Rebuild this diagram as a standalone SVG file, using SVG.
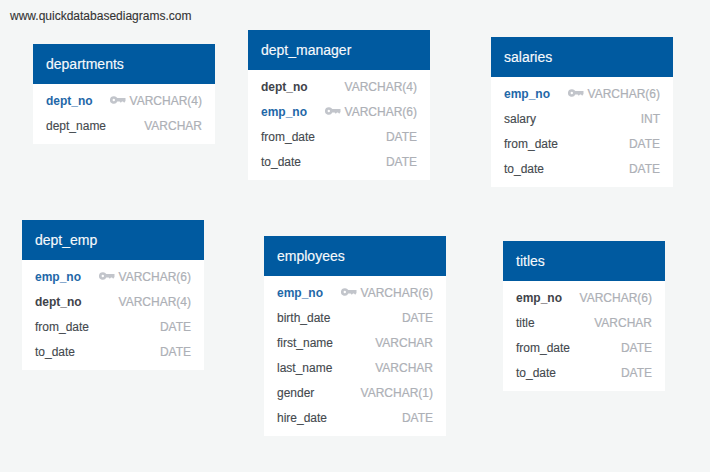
<svg xmlns="http://www.w3.org/2000/svg" width="710" height="472" viewBox="0 0 710 472">
<style>
text{font-family:"Liberation Sans",Arial,sans-serif;font-size:12px}
.bg{fill:#f4f6f6}
.body{fill:#fff}
.head{fill:#005aa0}
.t{font-size:14px;fill:#f6f9fc;stroke:#f6f9fc;stroke-width:.15px}
.f{fill:#44494e;stroke:#44494e;stroke-width:.12px}
.b{fill:#3f444a;font-weight:700}
.p{fill:#1f68a8;font-weight:700}
.y{fill:#adb0b6;stroke:#adb0b6;stroke-width:.2px;text-anchor:end}
.w{fill:#333;stroke:#333;stroke-width:.1px}
.k{fill:#c2c5cb}
</style>
<defs>
<g id="key"><path class="k" fill-rule="evenodd" d="M3.800 -3.800A3.800 3.800 0 0 1 7.300 -2H15.500V1L14.200 2.800L13 1.600H12L10.800 2.800L9.600 1.400H7.300A3.800 3.800 0 1 1 3.800 -3.800ZM3.800 -1.200A1.200 1.200 0 1 0 3.800 1.200A1.200 1.200 0 1 0 3.800 -1.200Z"/></g>
</defs>
<rect class="bg" width="710" height="472"/>
<text class="w" x="10" y="20">www.quickdatabasediagrams.com</text>
<g id="connectors"/>
<g id="departments">
<rect class="body" x="33" y="44" width="182" height="100"/><rect class="head" x="33" y="44" width="182" height="40"/>
<text class="t" x="46" y="69">departments</text>
<text class="p" x="46" y="105">dept_no</text><use href="#key" x="110" y="100"/><text class="y" x="202" y="105">VARCHAR(4)</text>
<text class="f" x="46" y="130">dept_name</text><text class="y" x="202" y="130">VARCHAR</text>
</g>
<g id="dept_manager">
<rect class="body" x="248" y="30" width="182" height="150"/><rect class="head" x="248" y="30" width="182" height="40"/>
<text class="t" x="261" y="55">dept_manager</text>
<text class="b" x="261" y="91">dept_no</text><text class="y" x="417" y="91">VARCHAR(4)</text>
<text class="p" x="261" y="116">emp_no</text><use href="#key" x="325" y="111"/><text class="y" x="417" y="116">VARCHAR(6)</text>
<text class="f" x="261" y="141">from_date</text><text class="y" x="417" y="141">DATE</text>
<text class="f" x="261" y="166">to_date</text><text class="y" x="417" y="166">DATE</text>
</g>
<g id="salaries">
<rect class="body" x="491" y="37" width="182" height="150"/><rect class="head" x="491" y="37" width="182" height="40"/>
<text class="t" x="504" y="62">salaries</text>
<text class="p" x="504" y="98">emp_no</text><use href="#key" x="568" y="93"/><text class="y" x="660" y="98">VARCHAR(6)</text>
<text class="f" x="504" y="123">salary</text><text class="y" x="660" y="123">INT</text>
<text class="f" x="504" y="148">from_date</text><text class="y" x="660" y="148">DATE</text>
<text class="f" x="504" y="173">to_date</text><text class="y" x="660" y="173">DATE</text>
</g>
<g id="dept_emp">
<rect class="body" x="22" y="220" width="182" height="150"/><rect class="head" x="22" y="220" width="182" height="40"/>
<text class="t" x="35" y="245">dept_emp</text>
<text class="p" x="35" y="281">emp_no</text><use href="#key" x="99" y="276"/><text class="y" x="191" y="281">VARCHAR(6)</text>
<text class="b" x="35" y="306">dept_no</text><text class="y" x="191" y="306">VARCHAR(4)</text>
<text class="f" x="35" y="331">from_date</text><text class="y" x="191" y="331">DATE</text>
<text class="f" x="35" y="356">to_date</text><text class="y" x="191" y="356">DATE</text>
</g>
<g id="employees">
<rect class="body" x="264" y="236" width="182" height="200"/><rect class="head" x="264" y="236" width="182" height="40"/>
<text class="t" x="277" y="261">employees</text>
<text class="p" x="277" y="297">emp_no</text><use href="#key" x="341" y="292"/><text class="y" x="433" y="297">VARCHAR(6)</text>
<text class="f" x="277" y="322">birth_date</text><text class="y" x="433" y="322">DATE</text>
<text class="f" x="277" y="347">first_name</text><text class="y" x="433" y="347">VARCHAR</text>
<text class="f" x="277" y="372">last_name</text><text class="y" x="433" y="372">VARCHAR</text>
<text class="f" x="277" y="397">gender</text><text class="y" x="433" y="397">VARCHAR(1)</text>
<text class="f" x="277" y="422">hire_date</text><text class="y" x="433" y="422">DATE</text>
</g>
<g id="titles">
<rect class="body" x="503" y="241" width="162" height="150"/><rect class="head" x="503" y="241" width="162" height="40"/>
<text class="t" x="516" y="266">titles</text>
<text class="b" x="516" y="302">emp_no</text><text class="y" x="652" y="302">VARCHAR(6)</text>
<text class="f" x="516" y="327">title</text><text class="y" x="652" y="327">VARCHAR</text>
<text class="f" x="516" y="352">from_date</text><text class="y" x="652" y="352">DATE</text>
<text class="f" x="516" y="377">to_date</text><text class="y" x="652" y="377">DATE</text>
</g>
</svg>
